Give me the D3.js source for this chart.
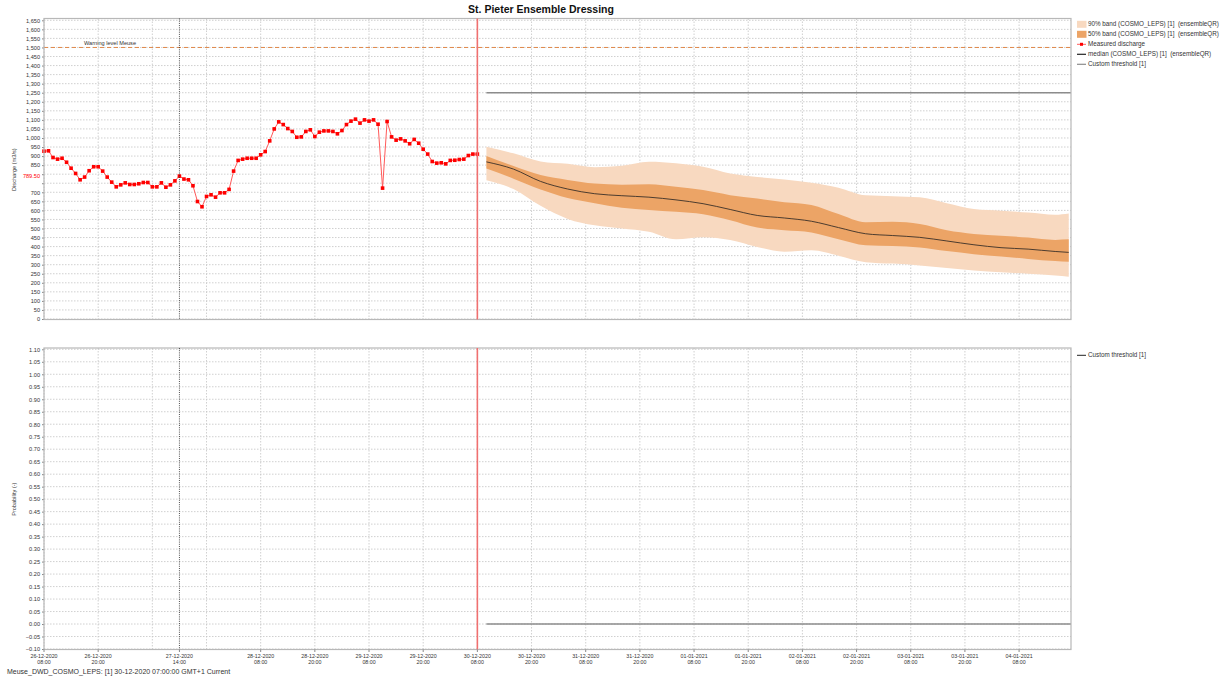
<!DOCTYPE html>
<html><head><meta charset="utf-8">
<script src="https://cdn.jsdelivr.net/npm/d3@7"></script>
<style>body{margin:0;background:#fff} text{font-family:"Liberation Sans",Arial,sans-serif}</style>
</head><body><svg id="c" width="1224" height="681"></svg>
<script>
// ---------- data ----------
const measuredStart = "2020-12-26T08:00"; // hourly observations
const measured = [927,929,892,883,888,866,833,804,769,784,819,841,841,817,784,756,730,741,752,743,743,747,754,754,730,730,752,728,741,763,789.5,773,769,736,649,620,677,686,673,697,697,716,817,876,883,888,888,888,907,925,984,1050,1089,1074,1052,1036,1004,1006,1036,1045,1008,1032,1039,1039,1036,1023,1041,1074,1093,1104,1082,1100,1093,1100,1076,723,1091,1006,988,995,984,968,992,971,938,911,870,861,863,857,876,877,881,883,903,911,911];
const forecastTimes = ["2020-12-30T10:00","2020-12-30T16:00","2020-12-30T22:00","2020-12-31T04:00","2020-12-31T10:00","2020-12-31T16:00","2020-12-31T22:00","2021-01-01T04:00","2021-01-01T10:00","2021-01-01T16:00","2021-01-01T22:00","2021-01-02T04:00","2021-01-02T10:00","2021-01-02T16:00","2021-01-02T22:00","2021-01-03T04:00","2021-01-03T10:00","2021-01-03T16:00","2021-01-03T22:00","2021-01-04T04:00","2021-01-04T10:00","2021-01-04T16:00","2021-01-04T19:00"];
const median = [868,828,760,718,692,681,673,658,637,605,572,558,540,505,471,461,451,431,410,394,386,373,368];
const p90hi = [951,915,870,857,838,846,868,860,841,804,785,770,752,725,683,678,672,640,607,598,588,576,583];
const p90lo = [767,718,625,553,518,500,482,440,452,436,398,372,380,350,314,306,296,282,268,258,250,240,233];
const p50hi = [900,845,795,768,748,742,745,730,712,684,665,645,630,580,535,537,525,490,470,460,450,437,440];
const p50lo = [831,775,715,668,640,615,602,592,579,546,505,490,478,440,407,403,395,375,358,345,332,320,316];
const thresholdDischarge = 1250;
const thresholdProbability = 0;
const warningLevel = 1500;
const forecastTime = "2020-12-30T08:00";
const crosshairTime = "2020-12-27T14:00";
const crosshairValue = 789.5;
const xTickLabels = ["2020-12-26T08:00","2020-12-26T20:00","2020-12-27T14:00","2020-12-28T08:00","2020-12-28T20:00","2020-12-29T08:00","2020-12-29T20:00","2020-12-30T08:00","2020-12-30T20:00","2020-12-31T08:00","2020-12-31T20:00","2021-01-01T08:00","2021-01-01T20:00","2021-01-02T08:00","2021-01-02T20:00","2021-01-03T08:00","2021-01-03T20:00","2021-01-04T08:00"];
const axisEnd = "2021-01-04T19:30";
const legendTop = ["90% band (COSMO_LEPS) [1]  (ensembleQR)","50% band (COSMO_LEPS) [1]  (ensembleQR)","Measured discharge","median (COSMO_LEPS) [1]  (ensembleQR)","Custom threshold [1]"];
const legendBottom = ["Custom threshold [1]"];

// ---------- setup ----------
const parse = d3.utcParse("%Y-%m-%dT%H:%M");
const t0 = parse(measuredStart);
const svg = d3.select("#c");
const L = 44, R = 1071;
const x = d3.scaleUtc().domain([t0, parse(axisEnd)]).range([L, R]);
const y = d3.scaleLinear().domain([0, 1650]).range([319, 20.3]);
const yp = d3.scaleLinear().domain([-0.1, 1.1]).range([649, 349.3]);
const gridTimes = d3.range(0, 228, 12).map(h => d3.utcHour.offset(t0, h));
const mTimes = measured.map((v, i) => d3.utcHour.offset(t0, i));
const fT = forecastTimes.map(parse);

const COL90 = "#f8d9c0", COL50 = "#eca466", THR = "#8c8c8c";

function panel(ys, top, bottom, ticks, fmt, hideTick) {
  const g = svg.append("g");
  g.selectAll(null).data(ticks).join("line")
    .attr("x1", L).attr("x2", R).attr("y1", d => ys(d)).attr("y2", d => ys(d))
    .attr("stroke", "#c4c4c4").attr("stroke-width", 0.8).attr("stroke-dasharray", "1.5,1.5");
  g.selectAll(null).data(gridTimes).join("line")
    .attr("x1", d => x(d)).attr("x2", d => x(d)).attr("y1", top).attr("y2", bottom)
    .attr("stroke", "#c4c4c4").attr("stroke-width", 0.8).attr("stroke-dasharray", "1.5,1.5");
  const ax = d3.axisLeft(ys).tickValues(ticks).tickFormat(d => hideTick && hideTick(d) ? "" : fmt(d)).tickSize(2).tickPadding(2);
  const a = svg.append("g").attr("transform", `translate(${L},0)`).call(ax);
  a.select(".domain").remove();
  a.selectAll("line").attr("stroke", "#888");
  a.selectAll("text").attr("font-size", 5.6).attr("fill", "#333");
  return g;
}

// ---------- top panel ----------
const topTicks = d3.range(0, 1651, 50);
panel(y, 18.5, 319.5, topTicks, d3.format(","), d => d === 750 || d === 800);

const area = (lo, hi) => d3.area().x((d, i) => x(fT[i])).y0((d, i) => y(lo[i])).y1((d, i) => y(hi[i])).curve(d3.curveMonotoneX);
svg.append("path").datum(p90hi).attr("d", area(p90lo, p90hi)).attr("fill", COL90);
svg.append("path").datum(p50hi).attr("d", area(p50lo, p50hi)).attr("fill", COL50);
svg.append("path").datum(median).attr("d", d3.line().x((d, i) => x(fT[i])).y(d => y(d)).curve(d3.curveMonotoneX))
  .attr("fill", "none").attr("stroke", "#3a3028").attr("stroke-width", 0.9);

// thresholds
svg.append("line").attr("x1", x(fT[0])).attr("x2", R).attr("y1", y(thresholdDischarge)).attr("y2", y(thresholdDischarge))
  .attr("stroke", THR).attr("stroke-width", 1.4);
svg.append("line").attr("x1", L).attr("x2", R).attr("y1", y(warningLevel)).attr("y2", y(warningLevel))
  .attr("stroke", "#e0884a").attr("stroke-width", 1).attr("stroke-dasharray", "4,3");
svg.append("text").attr("x", 84).attr("y", y(warningLevel) - 2.5).attr("font-size", 5.6).attr("fill", "#333").text("Warning level Meuse");

// measured
svg.append("path").datum(measured).attr("d", d3.line().x((d, i) => x(mTimes[i])).y(d => y(d)))
  .attr("fill", "none").attr("stroke", "#ff5a5a").attr("stroke-width", 1);
svg.selectAll(null).data(measured).join("rect")
  .attr("x", (d, i) => x(mTimes[i]) - 1.8).attr("y", d => y(d) - 1.8).attr("width", 3.6).attr("height", 3.6).attr("fill", "#ff0000");

svg.append("text").attr("x", L - 4).attr("y", y(crosshairValue) + 2).attr("text-anchor", "end")
  .attr("font-size", 5.6).attr("fill", "#ff0000").text(d3.format(".2f")(crosshairValue));

svg.append("rect").attr("x", L).attr("y", 18.5).attr("width", R - L).attr("height", 301).attr("fill", "none").attr("stroke", "#b8b8b8").attr("stroke-width", 1.2);

// ---------- bottom panel ----------
const pTicks = d3.range(-10, 111, 5).map(d => d / 100);
panel(yp, 348, 649.5, pTicks, d3.format(".2f"));
svg.append("line").attr("x1", x(fT[0])).attr("x2", R).attr("y1", yp(thresholdProbability)).attr("y2", yp(thresholdProbability))
  .attr("stroke", THR).attr("stroke-width", 1.4);
svg.append("rect").attr("x", L).attr("y", 348).attr("width", R - L).attr("height", 301.5).attr("fill", "none").attr("stroke", "#b8b8b8").attr("stroke-width", 1.2);

[[18.5, 319.5], [348, 649.5]].forEach(([a, b]) => {
  svg.append("line").attr("x1", x(parse(crosshairTime))).attr("x2", x(parse(crosshairTime))).attr("y1", a).attr("y2", b)
    .attr("stroke", "#222").attr("stroke-width", 0.8).attr("stroke-dasharray", "1,1.2");
  svg.append("line").attr("x1", x(parse(forecastTime))).attr("x2", x(parse(forecastTime))).attr("y1", a).attr("y2", b)
    .attr("stroke", "#f07070").attr("stroke-width", 1.6);
});

// x tick labels
const fd = d3.utcFormat("%d-%m-%Y"), fh = d3.utcFormat("%H:%M");
const xt = svg.append("g");
xTickLabels.map(parse).forEach(t => {
  xt.append("line").attr("x1", x(t)).attr("x2", x(t)).attr("y1", 649.5).attr("y2", 652).attr("stroke", "#888");
  xt.append("text").attr("x", x(t)).attr("y", 657.5).attr("text-anchor", "middle").attr("font-size", 5.3).attr("fill", "#333").text(fd(t));
  xt.append("text").attr("x", x(t)).attr("y", 664).attr("text-anchor", "middle").attr("font-size", 5.3).attr("fill", "#333").text(fh(t));
});

svg.append("text").attr("transform", `translate(16,${y(825)}) rotate(-90)`).attr("text-anchor", "middle").attr("font-size", 5.6).attr("fill", "#333").text("Discharge (m3/s)");
svg.append("text").attr("transform", `translate(16,${yp(0.5)}) rotate(-90)`).attr("text-anchor", "middle").attr("font-size", 5.6).attr("fill", "#333").text("Probability (-)");

svg.append("text").attr("x", 541).attr("y", 13).attr("text-anchor", "middle").attr("font-size", 10.5).attr("font-weight", "bold").attr("fill", "#111").text("St. Pieter Ensemble Dressing");
svg.append("text").attr("x", 7).attr("y", 674).attr("font-size", 7).attr("fill", "#333").text("Meuse_DWD_COSMO_LEPS: [1] 30-12-2020 07:00:00 GMT+1 Current");

// legends
const lg = svg.append("g").attr("transform", "translate(1077,0)");
const rowY = [24.3, 34.3, 44.3, 54.3, 64.3];
legendTop.forEach((txt, i) => {
  const yy = rowY[i];
  if (i === 0 || i === 1) lg.append("rect").attr("x", 0).attr("y", yy - 3.5).attr("width", 9.5).attr("height", 7).attr("fill", i === 0 ? COL90 : COL50);
  else if (i === 2) {
    lg.append("line").attr("x1", 0).attr("x2", 9).attr("y1", yy).attr("y2", yy).attr("stroke", "#ff5a5a");
    lg.append("rect").attr("x", 3).attr("y", yy - 1.5).attr("width", 3).attr("height", 3).attr("fill", "#ff0000");
  } else lg.append("line").attr("x1", 0).attr("x2", 9).attr("y1", yy).attr("y2", yy).attr("stroke", i === 3 ? "#222" : THR).attr("stroke-width", 1.2);
  lg.append("text").attr("x", 11).attr("y", yy + 2.1).attr("font-size", 6.3).attr("fill", "#333").style("white-space", "pre").text(txt);
});
legendBottom.forEach((txt, i) => {
  const yy = 355.3;
  lg.append("line").attr("x1", 0).attr("x2", 9).attr("y1", yy).attr("y2", yy).attr("stroke", "#222").attr("stroke-width", 1);
  lg.append("text").attr("x", 11).attr("y", yy + 2.1).attr("font-size", 6.3).attr("fill", "#333").style("white-space", "pre").text(txt);
});
</script></body></html>
